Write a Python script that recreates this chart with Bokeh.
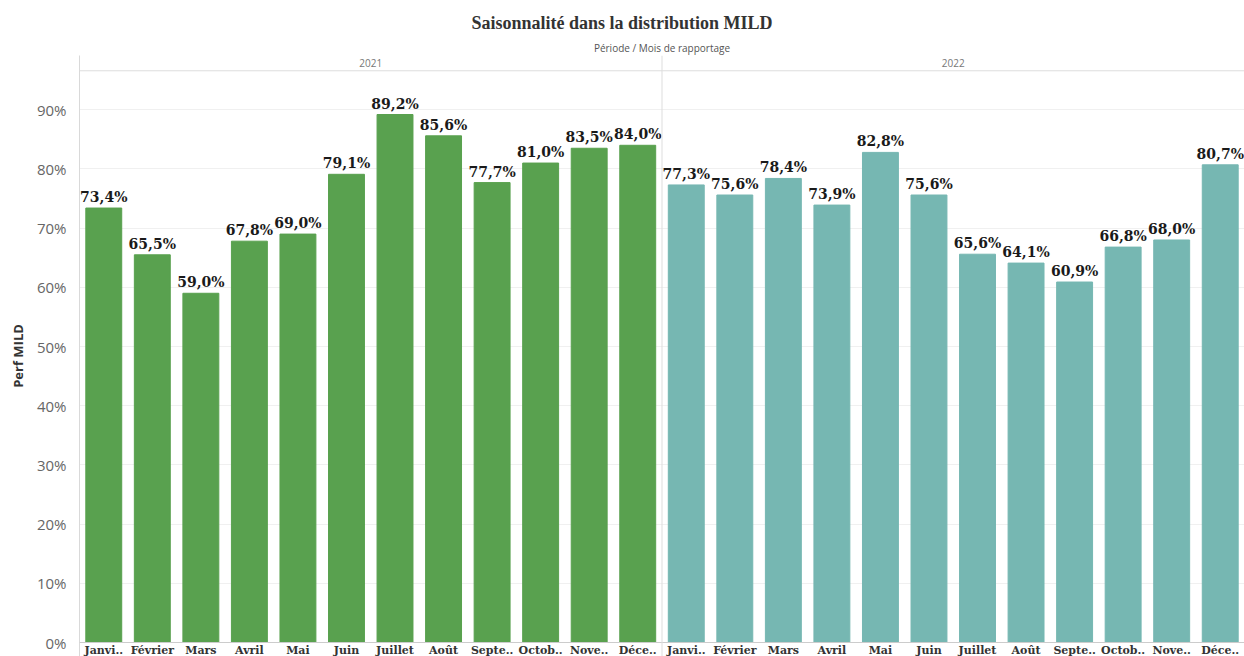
from bokeh.plotting import figure
from bokeh.models import (ColumnDataSource, Range1d, FixedTicker, Span, Label,
                          Title, CustomJSTickFormatter)
from bokeh.embed import file_html
from bokeh.resources import INLINE
from bokeh.core.properties import value

# Monthly MILD performance (%) per reporting year
years = ["2021", "2022"]
months = ["Janvi..", "Février", "Mars", "Avril", "Mai", "Juin",
          "Juillet", "Août", "Septe..", "Octob..", "Nove..", "Déce.."]
perf_2021 = [73.4, 65.5, 59.0, 67.8, 69.0, 79.1, 89.2, 85.6, 77.7, 81.0, 83.5, 84.0]
perf_2022 = [77.3, 75.6, 78.4, 73.9, 82.8, 75.6, 65.6, 64.1, 60.9, 66.8, 68.0, 80.7]
year_colors = ["#59A14F", "#76B7B2"]
y_ticks = [0, 10, 20, 30, 40, 50, 60, 70, 80, 90]

SERIF = value("DejaVu Serif")
SANS = "Open Sans"

xs, tops, colors, labels, names = [], [], [], [], []
for k, series in enumerate([perf_2021, perf_2022]):
    for i, v in enumerate(series):
        xs.append(k * len(months) + i + 0.5)
        tops.append(v)
        colors.append(year_colors[k])
        labels.append(f"{v:.1f}%".replace(".", ","))
        names.append(months[i])

src = ColumnDataSource(dict(x=xs, top=tops, color=colors, label=labels, month=names))

n = len(xs)
p = figure(width=1244, height=656, output_backend="svg", toolbar_location=None,
           title=None,
           x_range=Range1d(0, n), y_range=Range1d(-2.365, 99.17),
           min_border_left=79, min_border_right=0, min_border_top=55,
           min_border_bottom=0, outline_line_color=None)

p.xaxis.visible = False
p.xgrid.visible = False

yax = p.yaxis[0]
yax.ticker = FixedTicker(ticks=y_ticks)
yax.formatter = CustomJSTickFormatter(code="return tick.toFixed(0) + '%';")
yax.axis_line_color = "#d9d9d9"
yax.major_tick_line_color = None
yax.minor_tick_line_color = None
yax.major_label_text_font = SANS
yax.major_label_text_font_size = "15px"
yax.major_label_text_color = "#666666"
yax.major_label_standoff = 7
yax.axis_label = "Perf MILD"
yax.axis_label_text_font = SANS
yax.axis_label_text_font_style = "bold"
yax.axis_label_text_font_size = "13px"
yax.axis_label_text_color = "#333333"
yax.axis_label_standoff = 7

p.ygrid.ticker = FixedTicker(ticks=y_ticks[1:])
p.ygrid.grid_line_color = "#f0f0f0"

p.vbar(x="x", top="top", bottom=0, width=0.74, color="color", source=src)

# value labels above the bars
p.text(x="x", y="top", text="label", source=src, text_align="center",
       text_baseline="bottom", y_offset=-3, text_font=SERIF,
       text_font_style="bold", text_font_size="14px", text_color="#1a1a1a")

# month names under the baseline
p.text(x="x", y=0, text="month", source=src, text_align="center",
       text_baseline="top", y_offset=1, text_font=SERIF,
       text_font_style="bold", text_font_size="11px", text_color="#333333")

# baseline, header rule and pane divider
p.add_layout(Span(location=0, dimension="width", line_color="#cccccc", line_width=1))
p.add_layout(Span(location=96.59, dimension="width", line_color="#dddddd", line_width=1))
p.add_layout(Span(location=len(months), dimension="height", line_color="#dddddd", line_width=1))

# year headers
for k, yr in enumerate(years):
    p.add_layout(Label(x=k * len(months) + len(months) / 2, y=97.85, text=yr,
                       text_align="center", text_baseline="middle",
                       text_font=SANS, text_font_size="10px", text_color="#777777"))

# column header and chart title above the frame
p.add_layout(Title(text="Période / Mois de rapportage", align="center",
                   text_font=SANS, text_font_size="10px", text_font_style="normal",
                   text_color="#555555", standoff=2), "above")
p.add_layout(Title(text="Saisonnalité dans la distribution MILD", align="left",
                   offset=392, text_font="Liberation Serif", text_font_style="bold",
                   text_font_size="18px", text_color="#333333", standoff=9), "above")

open("out.html", "w").write(file_html(p, INLINE))
